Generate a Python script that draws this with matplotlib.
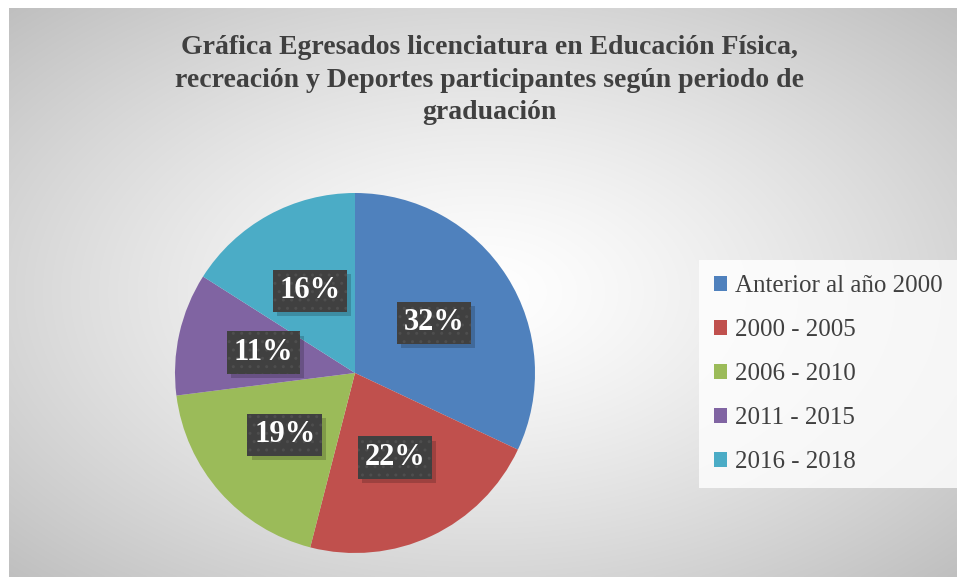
import numpy as np
import matplotlib.pyplot as plt
import matplotlib.patheffects as pe

# data
periods = ['Anterior al año 2000', '2000 - 2005', '2006 - 2010', '2011 - 2015', '2016 - 2018']
shares = [32, 22, 19, 11, 16]
colors = ['#4F81BD', '#C0504D', '#9BBB59', '#8064A2', '#4BACC6']
title = ('Gráfica Egresados licenciatura en Educación Física,\n'
         'recreación y Deportes participantes según periodo de\n'
         'graduación')

plt.rcParams['font.family'] = ['Liberation Serif', 'DejaVu Serif']
plt.rcParams['hatch.linewidth'] = 1.0


# drop shadow for the label boxes, without copying the dot hatch
class PlainShadow(pe.SimplePatchShadow):
    def draw_path(self, renderer, gc, tpath, affine, rgbFace=None):
        gc2 = renderer.new_gc()
        gc2.copy_properties(gc)
        gc2.set_hatch(None)
        super().draw_path(renderer, gc2, tpath, affine, rgbFace)
        gc2.restore()


fig = plt.figure(figsize=(9.57, 5.77), dpi=100)

# radial gray background of the chart area
bg = fig.add_axes([0, 0, 1, 1], zorder=-10)
xs = np.linspace(-1, 1, 480)
ys = np.linspace(-1, 1, 290)
X, Y = np.meshgrid(xs, ys)
d = np.sqrt(X**2 + Y**2) / np.sqrt(2)
shade = 1 - 0.25 * d**1.3
bg.imshow(np.dstack([shade] * 3), extent=[9 / 957, 1, 0, 1 - 8 / 577],
          aspect='auto', interpolation='bilinear')
bg.set_xlim(0, 1)
bg.set_ylim(0, 1)
bg.axis('off')

fig.text(0.511, 0.939, title, ha='center', va='top', fontsize=20, fontweight='bold',
         color='#404040', linespacing=1.4)

ax = fig.add_axes([175 / 957, 24 / 577, 360 / 957, 360 / 577])
wedges, _ = ax.pie(shares, colors=colors, startangle=90, counterclock=False,
                   radius=1, wedgeprops=dict(linewidth=0))
ax.set_xlim(-1, 1)
ax.set_ylim(-1, 1)
ax.set_aspect('equal')
ax.axis('off')

# percentage labels in dark dotted boxes
for w, s in zip(wedges, shares):
    ang = np.deg2rad((w.theta1 + w.theta2) / 2)
    t = ax.text(0.52 * np.cos(ang), 0.52 * np.sin(ang), f'{s}%', ha='center', va='center',
                fontsize=22, fontweight='bold', color='white',
                bbox=dict(boxstyle='square,pad=0.22', facecolor='#404040',
                          edgecolor='#4e4e4e', linewidth=0, hatch='..'))
    t.get_bbox_patch().set_path_effects([
        PlainShadow(offset=(3, -3), shadow_rgbFace='black', alpha=0.18),
        pe.Normal()])

leg = fig.legend(wedges, periods, loc='center left', bbox_to_anchor=(706 / 957, 1 - 374 / 577),
                 frameon=True, fontsize=18, handlelength=0.55, handleheight=0.55,
                 handletextpad=0.3, labelspacing=0.88, borderpad=0.3, borderaxespad=0,
                 labelcolor='#404040')
leg.get_frame().set_facecolor((1, 1, 1, 0.15))
leg.get_frame().set_edgecolor('none')
leg.get_frame().set_boxstyle('square')

fig.savefig('out.png', dpi=100)
